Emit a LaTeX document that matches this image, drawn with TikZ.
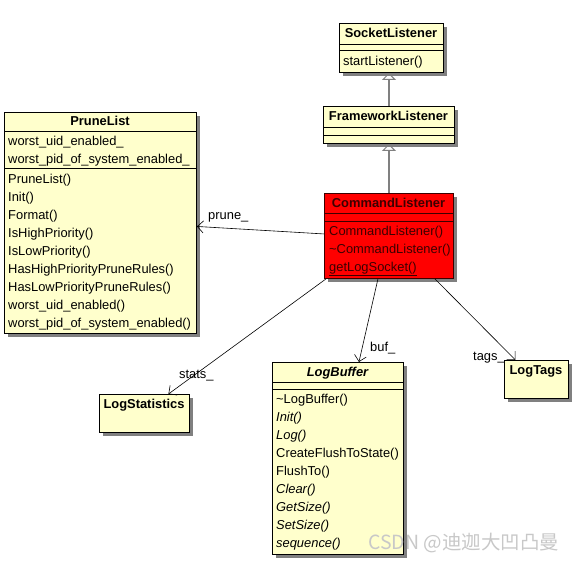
\documentclass[tikz,border=0pt]{standalone}
\usepackage{fontspec}
\setmainfont{Liberation Sans}
\newfontfamily\cjkfont{Noto Sans CJK SC}
\usetikzlibrary{arrows.meta,shadows}
\definecolor{umlyellow}{RGB}{255,255,204}
\definecolor{umlred}{RGB}{255,0,0}
\definecolor{cmdtext}{RGB}{60,0,0}
\definecolor{shadowgray}{RGB}{128,128,128}
\definecolor{inhgray}{RGB}{128,128,128}
\definecolor{wmgray}{RGB}{200,200,200}
\tikzset{
  x=1pt, y=-1pt,
  umlfont/.style={font=\fontsize{12.9}{14}\selectfont},
  classbox/.style={draw=black, line width=0.9pt, fill=umlyellow, anchor=north west,
    inner sep=0pt, drop shadow={shadow xshift=4pt, shadow yshift=-4pt, fill=shadowgray, opacity=1}},
  redbox/.style={classbox, fill=umlred, draw=cmdtext},
  member/.style={umlfont, anchor=west, inner sep=0pt, text height=10pt, text depth=1.5pt},
  title/.style={member, anchor=center, font=\fontsize{12.9}{14}\selectfont\bfseries},
  itmember/.style={member, font=\fontsize{12.9}{14}\selectfont\itshape},
  sepline/.style={draw=black, line width=0.9pt},
  assoc/.style={draw=black, line width=0.6pt, -{Straight Barb[length=6pt,width=12pt]}},
  inherit/.style={draw=inhgray, line width=1.6pt, -{Triangle[open, length=7pt, width=14pt, line width=1pt]}},
  rolelabel/.style={member}
}
\begin{document}
\begin{tikzpicture}
\useasboundingbox (0,0) rectangle (573,562);

% ---------------- class boxes
\node[classbox, minimum width=104pt, minimum height=49pt] (socket) at (339,23) {};
\node[classbox, minimum width=131pt, minimum height=37pt] (framework) at (323,106) {};
\node[redbox, minimum width=129pt, minimum height=85pt] (command) at (324,193) {};
\node[classbox, minimum width=192pt, minimum height=221pt] (prune) at (4,112) {};
\node[classbox, minimum width=90pt, minimum height=38pt] (logstats) at (99,394) {};
\node[classbox, minimum width=131pt, minimum height=192pt] (logbuffer) at (272,362) {};
\node[classbox, minimum width=64pt, minimum height=38pt] (logtags) at (504,360) {};

% ---------------- SocketListener
\node[title] (socket-t) at (391,33) {SocketListener};
\draw[sepline] (339,44) -- (443,44);
\draw[sepline] (339,50) -- (443,50);
\node[member] (socket-m1) at (343,61) {startListener()};

% ---------------- FrameworkListener
\node[title] (framework-t) at (388.5,116) {FrameworkListener};
\draw[sepline] (323,127) -- (454,127);
\draw[sepline] (323,135) -- (454,135);

% ---------------- CommandListener
\node[title, text=cmdtext] (command-t) at (388.5,203) {CommandListener};
\draw[sepline, draw=cmdtext] (324,213) -- (453,213);
\draw[sepline, draw=cmdtext] (324,221) -- (453,221);
\node[member, text=cmdtext] (command-m1) at (329,231) {CommandListener()};
\node[member, text=cmdtext] (command-m2) at (329,249) {\textasciitilde CommandListener()};
\node[member, text=cmdtext] (command-m3) at (329,267) {\underline{getLogSocket()}};

% ---------------- PruneList
\node[title] (prune-t) at (100,121) {PruneList};
\draw[sepline] (4,131) -- (196,131);
\node[member] (prune-a1) at (8,141) {worst\_uid\_enabled\_};
\node[member] (prune-a2) at (8,159) {worst\_pid\_of\_system\_enabled\_};
\draw[sepline] (4,168) -- (196,168);
\node[member] (prune-m1) at (8,179) {PruneList()};
\node[member] (prune-m2) at (8,197) {Init()};
\node[member] (prune-m3) at (8,215) {Format()};
\node[member] (prune-m4) at (8,233) {IsHighPriority()};
\node[member] (prune-m5) at (8,251) {IsLowPriority()};
\node[member] (prune-m6) at (8,269) {HasHighPriorityPruneRules()};
\node[member] (prune-m7) at (8,287) {HasLowPriorityPruneRules()};
\node[member] (prune-m8) at (8,305) {worst\_uid\_enabled()};
\node[member] (prune-m9) at (8,323) {worst\_pid\_of\_system\_enabled()};

% ---------------- LogStatistics
\node[title] (logstats-t) at (144,404) {LogStatistics};

% ---------------- LogTags
\node[title] (logtags-t) at (536,370) {LogTags};

% ---------------- LogBuffer
\node[title, font=\fontsize{12.9}{14}\selectfont\bfseries\itshape] (logbuffer-t) at (337.5,372) {LogBuffer};
\draw[sepline] (272,382) -- (403,382);
\draw[sepline] (272,389) -- (403,389);
\node[member] (logbuffer-m1) at (276,399) {\textasciitilde LogBuffer()};
\node[itmember] (logbuffer-m2) at (276,417) {Init()};
\node[itmember] (logbuffer-m3) at (276,435) {Log()};
\node[member] (logbuffer-m4) at (276,453) {CreateFlushToState()};
\node[member] (logbuffer-m5) at (276,471) {FlushTo()};
\node[itmember] (logbuffer-m6) at (276,489) {Clear()};
\node[itmember] (logbuffer-m7) at (276,507) {GetSize()};
\node[itmember] (logbuffer-m8) at (276,525) {SetSize()};
\node[itmember] (logbuffer-m9) at (276,543) {sequence()};

% ---------------- generalisations
\draw[inherit] (framework.north) -- (socket.south -| framework.north);
\draw[inherit] (command.north) -- (framework.south -| command.north);

% ---------------- associations
\draw[assoc] ([yshift=2pt]command.west) -- ([yshift=-3.5pt]prune.east);
\draw[assoc] ([xshift=2pt]command.south west) -- ([xshift=24pt]logstats.north);
\draw[assoc] ([xshift=-11pt]command.south) -- ([xshift=21pt]logbuffer.north);
\draw[assoc] ([xshift=-19pt]command.south east) -- ([xshift=-21pt]logtags.north);

\node[rolelabel] (lbl-prune) at (208,215) {prune\_};
\node[rolelabel] (lbl-stats) at (179,374) {stats\_};
\node[rolelabel] (lbl-buf) at (370,347) {buf\_};
\node[rolelabel] (lbl-tags) at (473,356) {tags\_};

% ---------------- watermark
\node[anchor=west, inner sep=0pt, text=wmgray, font=\cjkfont\fontsize{19.5}{22}\selectfont] (watermark) at (368,543) {CSDN @迪迦大凹凸曼};
\end{tikzpicture}
\end{document}
